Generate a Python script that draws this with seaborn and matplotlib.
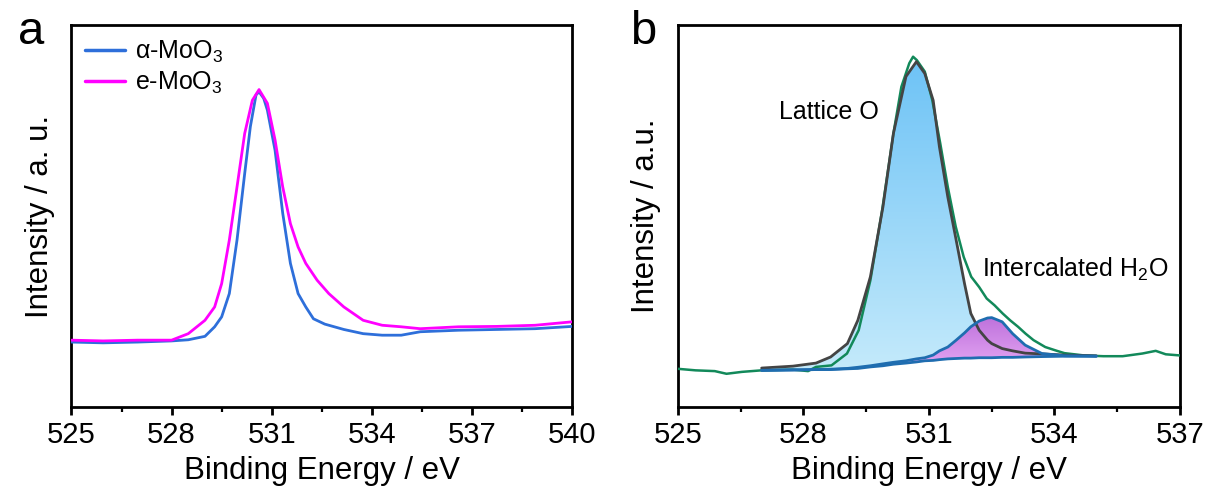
import numpy as np
import pandas as pd
import matplotlib
matplotlib.use("Agg")
import matplotlib.pyplot as plt
from matplotlib.ticker import MultipleLocator
import seaborn as sns

# ---------------- data (panel a) ----------------
a_alpha_x = [525.0, 525.95, 526.98, 528.0, 528.5, 529.0, 529.29, 529.5, 529.73, 529.96,
             530.19, 530.36, 530.53, 530.62, 530.76, 530.87, 531.10, 531.33, 531.56, 531.79,
             532.02, 532.25, 532.59, 533.16, 533.74, 534.31, 534.88, 535.45, 536.6, 537.74,
             538.89, 540.0]
a_alpha_y = [0.170, 0.168, 0.170, 0.173, 0.176, 0.185, 0.210, 0.236, 0.297, 0.437,
             0.611, 0.734, 0.817, 0.825, 0.808, 0.777, 0.672, 0.507, 0.376, 0.297,
             0.262, 0.231, 0.217, 0.203, 0.192, 0.188, 0.188, 0.197, 0.201, 0.203,
             0.205, 0.211]

a_e_x = [525.0, 525.95, 526.98, 528.0, 528.5, 529.0, 529.29, 529.5, 529.73, 529.96,
         530.19, 530.42, 530.62, 530.87, 531.10, 531.33, 531.56, 531.79, 532.02, 532.36,
         532.71, 533.16, 533.74, 534.31, 534.88, 535.45, 536.6, 537.74, 538.89, 540.0]
a_e_y = [0.175, 0.173, 0.175, 0.175, 0.192, 0.227, 0.262, 0.323, 0.437, 0.576,
         0.716, 0.803, 0.831, 0.795, 0.699, 0.576, 0.480, 0.419, 0.376, 0.332,
         0.297, 0.262, 0.227, 0.214, 0.210, 0.205, 0.210, 0.211, 0.214, 0.223]

# ---------------- data (panel b) ----------------
b_raw_x = [525.0, 525.42, 525.88, 526.16, 526.53, 527.0, 527.74, 528.11, 528.30, 528.67,
           529.04, 529.32, 529.60, 529.88, 530.15, 530.34, 530.53, 530.62, 530.71, 530.90,
           531.08, 531.27, 531.45, 531.64, 531.83, 532.01, 532.20, 532.38, 532.57, 532.76,
           532.94, 533.13, 533.31, 533.50, 533.78, 534.06, 534.24, 534.71, 535.17, 535.63,
           536.10, 536.42, 536.66, 537.0]
b_raw_y = [0.100, 0.096, 0.094, 0.087, 0.092, 0.096, 0.098, 0.094, 0.105, 0.109,
           0.140, 0.201, 0.332, 0.515, 0.716, 0.838, 0.900, 0.917, 0.908, 0.878,
           0.803, 0.690, 0.576, 0.472, 0.393, 0.341, 0.314, 0.284, 0.266, 0.245,
           0.227, 0.210, 0.192, 0.175, 0.157, 0.147, 0.141, 0.135, 0.133, 0.133,
           0.140, 0.147, 0.138, 0.135]

b_fit_x = [527.0, 527.75, 528.3, 528.65, 529.05, 529.3, 529.6, 529.9, 530.15, 530.45,
           530.7, 530.9, 531.1, 531.25, 531.45, 531.65, 531.85, 532.0, 532.2, 532.4,
           532.5, 532.75, 533.0, 533.3, 533.7, 534.25, 535.0]
b_background = [0.096, 0.097, 0.098, 0.098, 0.100, 0.101, 0.105, 0.108, 0.112, 0.115,
                0.118, 0.121, 0.122, 0.124, 0.126, 0.127, 0.128, 0.128, 0.129, 0.129,
                0.129, 0.130, 0.130, 0.131, 0.132, 0.133, 0.133]
b_lattice = [0.102, 0.107, 0.115, 0.131, 0.166, 0.227, 0.341, 0.524, 0.716, 0.865,
             0.904, 0.873, 0.803, 0.681, 0.550, 0.437, 0.323, 0.245, 0.201, 0.175,
             0.166, 0.153, 0.147, 0.141, 0.139, 0.136, 0.134]
b_water = [0.096, 0.097, 0.098, 0.099, 0.101, 0.104, 0.108, 0.113, 0.117, 0.121,
           0.126, 0.129, 0.136, 0.147, 0.157, 0.175, 0.194, 0.210, 0.225, 0.233,
           0.234, 0.223, 0.192, 0.162, 0.140, 0.134, 0.133]

a_xticks = [525, 528, 531, 534, 537, 540]
b_xticks = [525, 528, 531, 534, 537]

# ---------------- style ----------------
sns.set_style("white")
plt.rcParams["font.family"] = ["Liberation Sans", "DejaVu Sans"]
plt.rcParams["mathtext.fontset"] = "custom"
plt.rcParams["mathtext.rm"] = "Liberation Sans"
plt.rcParams["mathtext.it"] = "Liberation Sans"
plt.rcParams["mathtext.default"] = "rm"
plt.rcParams["text.color"] = "black"
plt.rcParams["axes.labelcolor"] = "black"
plt.rcParams["xtick.color"] = "black"
plt.rcParams["ytick.color"] = "black"

fig = plt.figure(figsize=(12.07, 4.98), dpi=100)
ax1 = fig.add_axes([0.0592, 0.1827, 0.4148, 0.7671])
ax2 = fig.add_axes([0.5617, 0.1827, 0.4159, 0.7671])

TICK_FS = 21
LAB_FS = 22.5


def style_axes(ax, xmin, xmax, ticks, ylabel):
    ax.set_xlim(xmin, xmax)
    ax.set_ylim(0, 1)
    ax.set_xticks(ticks)
    ax.xaxis.set_minor_locator(MultipleLocator(1.5))
    ax.set_yticks([])
    for s in ax.spines.values():
        s.set_visible(True)
        s.set_linewidth(2.0)
        s.set_color("black")
    ax.tick_params(axis="x", which="major", direction="out", length=6, width=2.0,
                   labelsize=TICK_FS, pad=4, bottom=True, colors="black")
    ax.tick_params(axis="x", which="minor", direction="out", length=3.5, width=1.6,
                   bottom=True)
    ax.set_xlabel("Binding Energy / eV", fontsize=LAB_FS, labelpad=5)
    ax.set_ylabel(ylabel, fontsize=LAB_FS, labelpad=12)


# ---------------- panel a ----------------
df_a1 = pd.DataFrame({"x": a_alpha_x, "y": a_alpha_y})
df_a2 = pd.DataFrame({"x": a_e_x, "y": a_e_y})
sns.lineplot(data=df_a1, x="x", y="y", ax=ax1, color="#2E6FDA", lw=2.0,
             label=r"α-MoO$_3$", zorder=3)
sns.lineplot(data=df_a2, x="x", y="y", ax=ax1, color="#FF00FF", lw=2.0,
             label=r"e-MoO$_3$", zorder=4)
style_axes(ax1, 525, 540, a_xticks, "Intensity / a. u.")
leg = ax1.legend(loc="upper left", frameon=False, fontsize=18, handlelength=1.6,
                 handletextpad=0.4, borderaxespad=0.15, labelspacing=0.2,
                 borderpad=0.4)
for lh in leg.get_lines():
    lh.set_linewidth(2.5)


# ---------------- panel b ----------------
def gradient_fill(ax, x, y_low, y_high, c_top, c_bot, zorder):
    poly = ax.fill_between(x, y_low, y_high, color="none", lw=0, zorder=zorder)
    path = poly.get_paths()[0]
    top = np.array(matplotlib.colors.to_rgb(c_top))
    bot = np.array(matplotlib.colors.to_rgb(c_bot))
    t = np.linspace(0, 1, 256)[:, None]
    img = (bot * (1 - t) + top * t)[:, None, :]
    ymin, ymax = min(y_low), max(y_high)
    im = ax.imshow(img, extent=[min(x), max(x), ymin, ymax], origin="lower",
                   aspect="auto", zorder=zorder, interpolation="bilinear")
    im.set_clip_path(path, transform=ax.transData)


gradient_fill(ax2, b_fit_x, b_background, b_lattice, "#6EC3F6", "#C4EAFB", 1)
gradient_fill(ax2, b_fit_x, b_background, b_water, "#BE72DC", "#E6A8F4", 2)

df_raw = pd.DataFrame({"x": b_raw_x, "y": b_raw_y})
df_fit = pd.DataFrame({"x": b_fit_x, "bg": b_background, "lat": b_lattice, "w": b_water})
sns.lineplot(data=df_raw, x="x", y="y", ax=ax2, color="#12895A", lw=1.8, zorder=3)
sns.lineplot(data=df_fit, x="x", y="lat", ax=ax2, color="#444444", lw=2.0, zorder=4)
sns.lineplot(data=df_fit, x="x", y="w", ax=ax2, color="#1F6DB0", lw=2.0, zorder=5)
sns.lineplot(data=df_fit, x="x", y="bg", ax=ax2, color="#1F6DB0", lw=2.0, zorder=5)
style_axes(ax2, 525, 537, b_xticks, "Intensity / a.u.")
ax2.set_xlim(525, 537)
ax2.set_ylim(0, 1)

ax2.text(527.42, 0.772, "Lattice O", fontsize=18, ha="left", va="center", zorder=6)
ax2.text(532.27, 0.359, r"Intercalated H$_2$O", fontsize=18, ha="left", va="center", zorder=6)

# panel letters
fig.text(0.015, 0.935, "a", fontsize=34, ha="left", va="center")
fig.text(0.522, 0.935, "b", fontsize=34, ha="left", va="center")

fig.savefig("out.png", dpi=100)
